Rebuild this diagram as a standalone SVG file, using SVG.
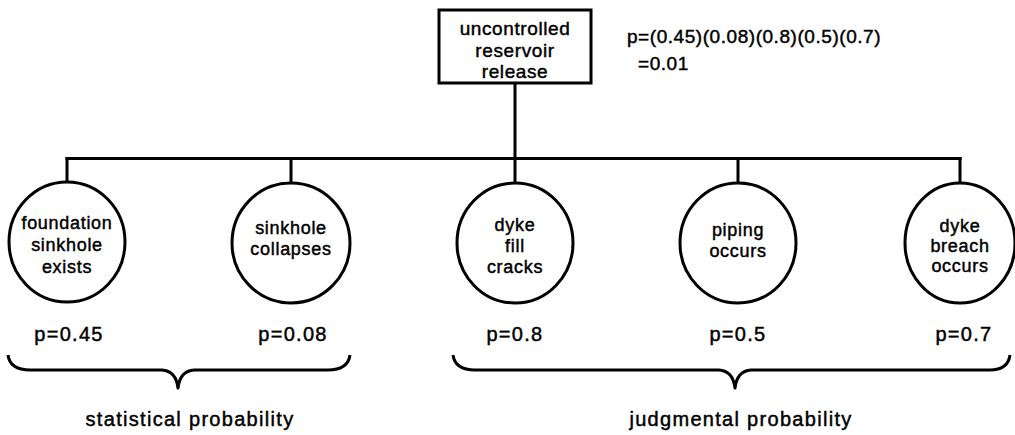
<svg xmlns="http://www.w3.org/2000/svg" width="1015" height="435" viewBox="0 0 1015 435">
<style>
.bg{fill:#ffffff}
.ln{stroke:#000;stroke-width:3;fill:none;stroke-linecap:square}
.nd{stroke:#000;stroke-width:3;fill:#fff}
.br{stroke:#000;stroke-width:3;fill:none;stroke-linejoin:round}
text{font-family:"Liberation Sans",Arial,sans-serif;fill:#000;stroke:#000;stroke-width:0.45px}
.t{font-size:18px;letter-spacing:0.7px;text-anchor:middle}
.b{font-size:19px;letter-spacing:0.6px;text-anchor:middle}
.f{font-size:19px;letter-spacing:0.55px}
.p{font-size:20px;letter-spacing:1.3px;text-anchor:middle}
.g{font-size:20px;letter-spacing:1.3px;text-anchor:middle}
</style>
<rect class="bg" x="0" y="0" width="1015" height="435"/>
<g id="connectors">
<line class="ln" x1="515" y1="83" x2="515" y2="158.5"/>
<line class="ln" x1="67" y1="158.5" x2="960" y2="158.5"/>
<line class="ln" x1="67" y1="158.5" x2="67" y2="182"/>
<line class="ln" x1="291" y1="158.5" x2="291" y2="182"/>
<line class="ln" x1="515" y1="158.5" x2="515" y2="182"/>
<line class="ln" x1="738" y1="158.5" x2="738" y2="182"/>
<line class="ln" x1="960" y1="158.5" x2="960" y2="182"/>
</g>
<g id="top">
<rect class="nd" x="439" y="10" width="152" height="73"/>
<text class="b" x="515" y="35">uncontrolled</text>
<text class="b" x="515" y="57">reservoir</text>
<text class="b" x="515" y="78">release</text>
</g>
<g id="formula">
<text class="f" x="627" y="43">p=(0.45)(0.08)(0.8)(0.5)(0.7)</text>
<text class="f" x="638" y="70">=0.01</text>
</g>
<g id="n1">
<ellipse class="nd" cx="67" cy="242" rx="58" ry="60"/>
<text class="t" x="67" y="229">foundation</text>
<text class="t" x="67" y="251">sinkhole</text>
<text class="t" x="67" y="273">exists</text>
</g>
<g id="n2">
<ellipse class="nd" cx="291" cy="243" rx="59" ry="60"/>
<text class="t" x="291" y="234">sinkhole</text>
<text class="t" x="291" y="255">collapses</text>
</g>
<g id="n3">
<ellipse class="nd" cx="515" cy="243" rx="58" ry="60"/>
<text class="t" x="515" y="231">dyke</text>
<text class="t" x="515" y="252">fill</text>
<text class="t" x="515" y="273">cracks</text>
</g>
<g id="n4">
<ellipse class="nd" cx="738" cy="243" rx="58" ry="60"/>
<text class="t" x="738" y="236">piping</text>
<text class="t" x="738" y="257">occurs</text>
</g>
<g id="n5">
<ellipse class="nd" cx="960" cy="243" rx="55" ry="60"/>
<text class="t" x="960" y="232">dyke</text>
<text class="t" x="960" y="252">breach</text>
<text class="t" x="960" y="272">occurs</text>
</g>
<g id="probs">
<text class="p" x="69" y="341">p=0.45</text>
<text class="p" x="293" y="341">p=0.08</text>
<text class="p" x="515" y="341">p=0.8</text>
<text class="p" x="738" y="341">p=0.5</text>
<text class="p" x="964" y="341">p=0.7</text>
</g>
<g id="brace-statistical">
<path class="br" d="M8,355 Q10,370 30,370 L162,370 Q176,371 178,388 Q180,371 194,370 L328,370 Q348,370 350,355"/>
<text class="g" x="190" y="426">statistical probability</text>
</g>
<g id="brace-judgmental">
<path class="br" d="M453,355 Q455,370 475,370 L719,370 Q733,371 735,388 Q737,371 751,370 L990,370 Q1008,370 1010,355"/>
<text class="g" x="741" y="426">judgmental probability</text>
</g>
</svg>
